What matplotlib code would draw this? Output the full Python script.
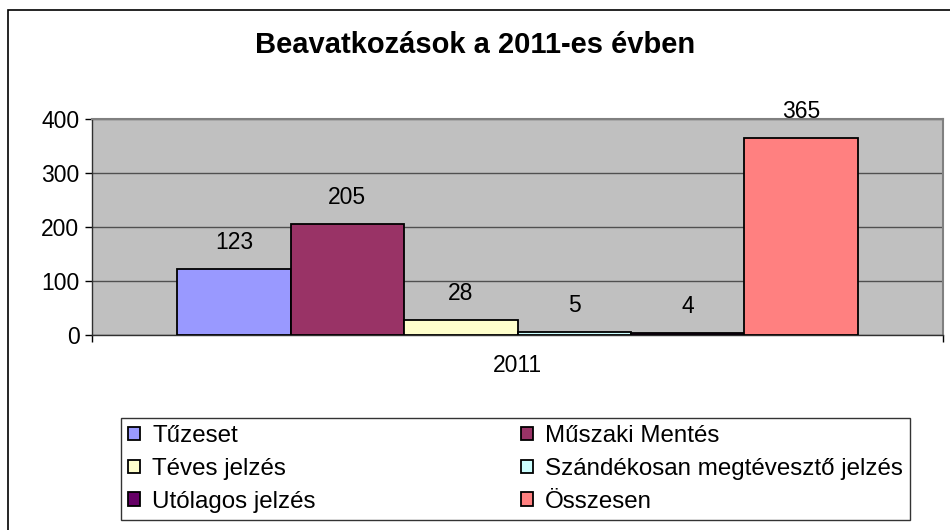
import matplotlib
matplotlib.use("Agg")
import matplotlib.pyplot as plt
from matplotlib.patches import Rectangle

plt.rcParams["font.family"] = ["Liberation Sans", "DejaVu Sans"]

# data
year = "2011"
series = [
    "Tűzeset",
    "Műszaki Mentés",
    "Téves jelzés",
    "Szándékosan megtévesztő jelzés",
    "Utólagos jelzés",
    "Összesen",
]
values = [123, 205, 28, 5, 4, 365]
colors = ["#9999FF", "#993366", "#FFFFCC", "#CCFFFF", "#660066", "#FF8080"]

fig = plt.figure(figsize=(9.5, 5.3), dpi=100)
ax = fig.add_axes([92 / 950, 1 - 335 / 530, (943 - 92) / 950, (335 - 119) / 530])

# outer chart frame (left + top edges visible, rest runs off the picture)
fig.patches.append(
    Rectangle((8 / 950, -0.05), 1.0, 1 - 10 / 530 + 0.05, transform=fig.transFigure,
              facecolor="none", edgecolor="black", linewidth=1.2)
)

n = len(series)
width = 1.0
center = (n - 1) / 2
bars = []
for i, (name, v, c) in enumerate(zip(series, values, colors)):
    x = center + (i - center) * width
    b = ax.bar(x, v, width=width, color=c, edgecolor="black", linewidth=1.3,
               label=name, zorder=3)
    bars.append(b)
    ax.annotate(str(v), (x, v), xytext=(0, 19), textcoords="offset points",
                ha="center", va="center", fontsize=16.5, annotation_clip=False)

ax.set_facecolor("#C0C0C0")
ax.set_xlim(-1.25, n - 1 + 1.25)
ax.set_ylim(0, 400)
ax.set_yticks([0, 100, 200, 300, 400])
ax.tick_params(axis="y", labelsize=16.5, length=5, width=1, direction="out", pad=4)
ax.yaxis.grid(True, color="#505050", linewidth=1, zorder=1)
ax.set_axisbelow(True)

ax.set_xticks([center])
ax.set_xticklabels([year])
ax.tick_params(axis="x", labelsize=16.5, length=0, pad=14)
ax.set_xticks([-1.25, n - 1 + 1.25], minor=True)
ax.tick_params(axis="x", which="minor", length=5, width=1, direction="out")

for s in ["top", "right"]:
    ax.spines[s].set_color("#808080")
    ax.spines[s].set_linewidth(1.5)
for s in ["left", "bottom"]:
    ax.spines[s].set_color("#303030")
    ax.spines[s].set_linewidth(1)

fig.text(0.5, 1 - 45 / 530, "Beavatkozások a 2011-es évben", ha="center", va="center",
         fontsize=21, fontweight="bold")

# legend fills row-wise in the reference: reorder for column-wise filling
order = [0, 2, 4, 1, 3, 5]
leg = fig.legend([bars[i] for i in order], [series[i] for i in order], ncol=2,
                 loc="center", mode="expand",
                 bbox_to_anchor=(121 / 950, 1 - 528 / 530, (910 - 121) / 950, 118 / 530),
                 borderaxespad=0, fontsize=17.4, frameon=True, fancybox=False,
                 edgecolor="black", handlelength=0.5, handleheight=0.5,
                 handletextpad=0.5, labelspacing=0.45, borderpad=0.3)
leg.get_frame().set_linewidth(1)

fig.savefig("out.png", dpi=100)
